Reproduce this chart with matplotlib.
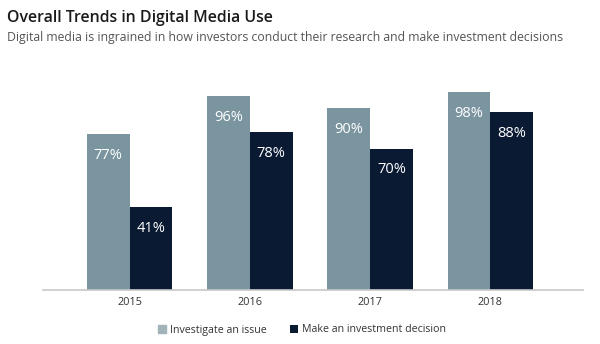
import numpy as np
import matplotlib.pyplot as plt

years = ['2015', '2016', '2017', '2018']
investigate = [77, 96, 90, 98]
invest_decision = [41, 78, 70, 88]
series_names = ['Investigate an issue', 'Make an investment decision']

light = '#7a959f'
dark = '#0a1a33'

plt.rcParams['font.family'] = ['Open Sans', 'DejaVu Sans']

fig = plt.figure(figsize=(6, 3.44), dpi=100)
ax = fig.add_axes([43 / 600, 54 / 344, 540 / 600, 202 / 344])

x = np.arange(len(years))
w = 0.355
b1 = ax.bar(x - w / 2, investigate, w, color=light, label=series_names[0])
b2 = ax.bar(x + w / 2, invest_decision, w, color=dark, label=series_names[1])

for bars in (b1, b2):
    for rect in bars:
        h = rect.get_height()
        ax.text(rect.get_x() + rect.get_width() / 2, h - 10.5, f'{h:.0f}%',
                ha='center', va='center', color='white', fontsize=10.5)

ax.set_xlim(-0.72, 3.77)
ax.set_ylim(0, 100)
ax.set_xticks(x)
ax.set_xticklabels(years, fontsize=7.8, color='#333333')
ax.tick_params(axis='x', length=0, pad=5)
ax.set_yticks([])
for s in ['top', 'right', 'left']:
    ax.spines[s].set_visible(False)
ax.spines['bottom'].set_color('#c8c8c8')
ax.spines['bottom'].set_linewidth(1.2)

fig.text(7 / 600, 1 - 18 / 344, 'Overall Trends in Digital Media Use', fontsize=11.4,
         fontweight='semibold', color='#1a1a1a', va='center', ha='left')
fig.text(7 / 600, 1 - 37 / 344,
         'Digital media is ingrained in how investors conduct their research and make investment decisions',
         fontsize=8.85, color='#555555', va='center', ha='left')

leg = fig.legend(handles=[b1, b2], loc='center', bbox_to_anchor=(302 / 600, 1 - 330 / 344),
                 ncol=2, frameon=False, fontsize=7.7, handlelength=0.7, handleheight=0.7,
                 handletextpad=0.4, columnspacing=2.2)
for t in leg.get_texts():
    t.set_color('#333333')
leg.legend_handles[0].set_color('#a3b3ba')

fig.savefig('out.png', dpi=100)
